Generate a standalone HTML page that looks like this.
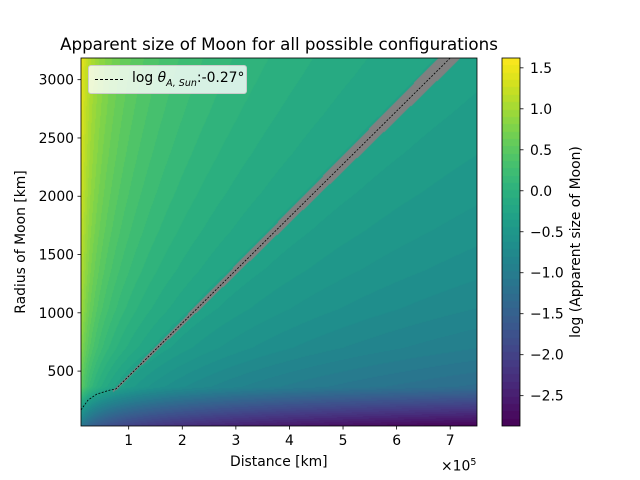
<!DOCTYPE html>
<html><head><meta charset="utf-8">
<style>
body{margin:0;background:#fff;font-family:"DejaVu Sans","Liberation Sans",sans-serif;}
#wrap{position:relative;width:640px;height:480px;overflow:hidden}
canvas{position:absolute}
.t{position:absolute;font-size:13.9px;color:#000;white-space:nowrap;line-height:1}
</style></head><body>
<div id="wrap">
<div class="t" style="left:0;width:558px;text-align:center;top:36px;font-size:16.7px">Apparent size of Moon for all possible configurations</div>
<canvas id="plot" width="396" height="368" style="left:81px;top:58px"></canvas>
<canvas id="cbar" width="18" height="368" style="left:502px;top:58px"></canvas>
<svg id="ov" width="640" height="480" style="position:absolute;left:0;top:0"></svg>
<div class="t" style="left:230px;top:456px">Distance [km]</div>
<div class="t" style="left:441px;top:458px">×10<sup style="font-size:9.5px">5</sup></div>
<div class="t" style="left:22px;top:242px;transform:translate(-50%,-50%) rotate(-90deg)">Radius of Moon [km]</div>
<div class="t" style="left:577px;top:242px;transform:translate(-50%,-50%) rotate(-90deg)">log (Apparent size of Moon)</div>
<div style="position:absolute;left:88px;top:65px;width:159px;height:29px;background:rgba(255,255,255,0.8);border:1px solid #ccc;border-radius:3px;box-sizing:border-box">
<div style="position:absolute;left:6px;top:13px;width:28px;border-top:1.5px dashed #000"></div>
<div class="t" style="left:43px;top:6px;font-size:13.9px">log <i>θ</i><sub style="font-size:9.5px"><i>A, Sun</i></sub>:-0.27°</div>
</div>
</div>
<script>
const distanceRange=[11000,750000];
const radiusRange=[29,3186];
const fieldRadiusMin=9;
const radiusGridStep=337;
const sunLogAngle=-0.27;
const sunRatio=0.00456;
const curveDist=[11000,24000,40600,64700,75800,700000];
const curveRad=[166,251,303,337,346,3186];
const xTicks=[1,2,3,4,5,6,7];
const yTicks=[500,1000,1500,2000,2500,3000];
const cbTicks=[1.5,1.0,0.5,0.0,-0.5,-1.0,-1.5,-2.0,-2.5];
const cbRange=[-2.87,1.62];
const nLevels=50;

const PX0=81,PX1=477,PY0=58,PY1=426;
function xs(d){return PX0+(d-distanceRange[0])/(distanceRange[1]-distanceRange[0])*(PX1-PX0);}
function ys(r){return PY1-(r-radiusRange[0])/(radiusRange[1]-radiusRange[0])*(PY1-PY0);}
function viridis(t){
 t=Math.max(0,Math.min(1,t));
 const c=[[0.2777,0.0054,0.3341],[0.1051,1.4046,1.3846],[-0.3309,0.2148,0.0951],[-4.6342,-5.7991,-19.3324],[6.2283,14.1799,56.6906],[4.7764,-13.7451,-65.3530],[-5.4355,4.6459,26.3124]];
 let o=[0,0,0];
 for(let k=0;k<3;k++){let v=0;for(let i=6;i>=0;i--)v=v*t+c[i][k];o[k]=Math.round(255*Math.max(0,Math.min(1,v)));}
 return o;
}
function val(d,r){return Math.log10(2*Math.atan(r/d)*180/Math.PI);}
function fieldVal(d,r){
 const k=Math.floor((r-fieldRadiusMin)/radiusGridStep);
 const r0=fieldRadiusMin+k*radiusGridStep,r1=r0+radiusGridStep;
 const f=(r-r0)/radiusGridStep;
 return val(d,r0)*(1-f)+val(d,r1)*f;
}
const pc=document.getElementById('plot'),ctx=pc.getContext('2d');
const W=pc.width,H=pc.height,img=ctx.createImageData(W,H);
for(let j=0;j<H;j++){const r=radiusRange[1]-(j+0.5)/H*(radiusRange[1]-radiusRange[0]);
 const rf=fieldRadiusMin+(r-radiusRange[0])*(radiusRange[1]-fieldRadiusMin)/(radiusRange[1]-radiusRange[0]);
 for(let i=0;i<W;i++){const d=distanceRange[0]+(i+0.5)/W*(distanceRange[1]-distanceRange[0]);
  let t=(fieldVal(d,rf)-cbRange[0])/(cbRange[1]-cbRange[0]);t=Math.floor(t*nLevels)/nLevels+0.5/nLevels;
  let c=viridis(t);
  if(d>70000&&Math.abs(Math.log10(r/d)-Math.log10(sunRatio))<0.013)c=[128,128,128];
  const p=(j*W+i)*4;img.data[p]=c[0];img.data[p+1]=c[1];img.data[p+2]=c[2];img.data[p+3]=255;}}
ctx.putImageData(img,0,0);
const cc=document.getElementById('cbar'),cx=cc.getContext('2d');
for(let j=0;j<368;j++){let t=1-(j+0.5)/368;t=Math.floor(t*nLevels)/nLevels+0.5/nLevels;const c=viridis(t);cx.fillStyle=`rgb(${c})`;cx.fillRect(0,j,18,1);}
const NS='http://www.w3.org/2000/svg',ov=document.getElementById('ov');
function mk(tag,at){const e=document.createElementNS(NS,tag);for(const k in at)e.setAttribute(k,at[k]);ov.appendChild(e);return e;}
let pts=curveDist.map((d,i)=>xs(d)+','+ys(curveRad[i])).join(' ');
const cl=mk('polyline',{points:pts,fill:'none',stroke:'#000','stroke-width':0.8,'stroke-dasharray':'2,1.5'});


const fr=mk('rect',{x:PX0,y:PY0,width:PX1-PX0,height:PY1-PY0,fill:'none',stroke:'#000','stroke-width':0.8});


const cf=mk('rect',{x:502,y:58,width:18,height:368,fill:'none',stroke:'#000','stroke-width':0.8});


const FF='DejaVu Sans,Liberation Sans,sans-serif';
xTicks.forEach(v=>{const x=xs(v*1e5);
 const l=mk('line',{x1:x,x2:x,y1:PY1,y2:PY1+3.5,stroke:'#000','stroke-width':0.8});
 
 
 const t=mk('text',{x:x,y:PY1+19,'text-anchor':'middle','font-size':13.9,'font-family':FF});t.textContent=v;
 
 });
yTicks.forEach(v=>{const y=ys(v);
 const l=mk('line',{x1:PX0-3.5,x2:PX0,y1:y,y2:y,stroke:'#000','stroke-width':0.8});
 
 
 const t=mk('text',{x:PX0-7,y:y+5,'text-anchor':'end','font-size':13.9,'font-family':FF});t.textContent=v;
 
 });
cbTicks.forEach(v=>{const y=426-(v-cbRange[0])/(cbRange[1]-cbRange[0])*368;
 const l=mk('line',{x1:520,x2:523.5,y1:y,y2:y,stroke:'#000','stroke-width':0.8});
 
 
 const t=mk('text',{x:530,y:y+5,'font-size':13.9,'font-family':FF});t.textContent=v.toFixed(1).replace('-','−');
 
 });
</script>
</body></html>
